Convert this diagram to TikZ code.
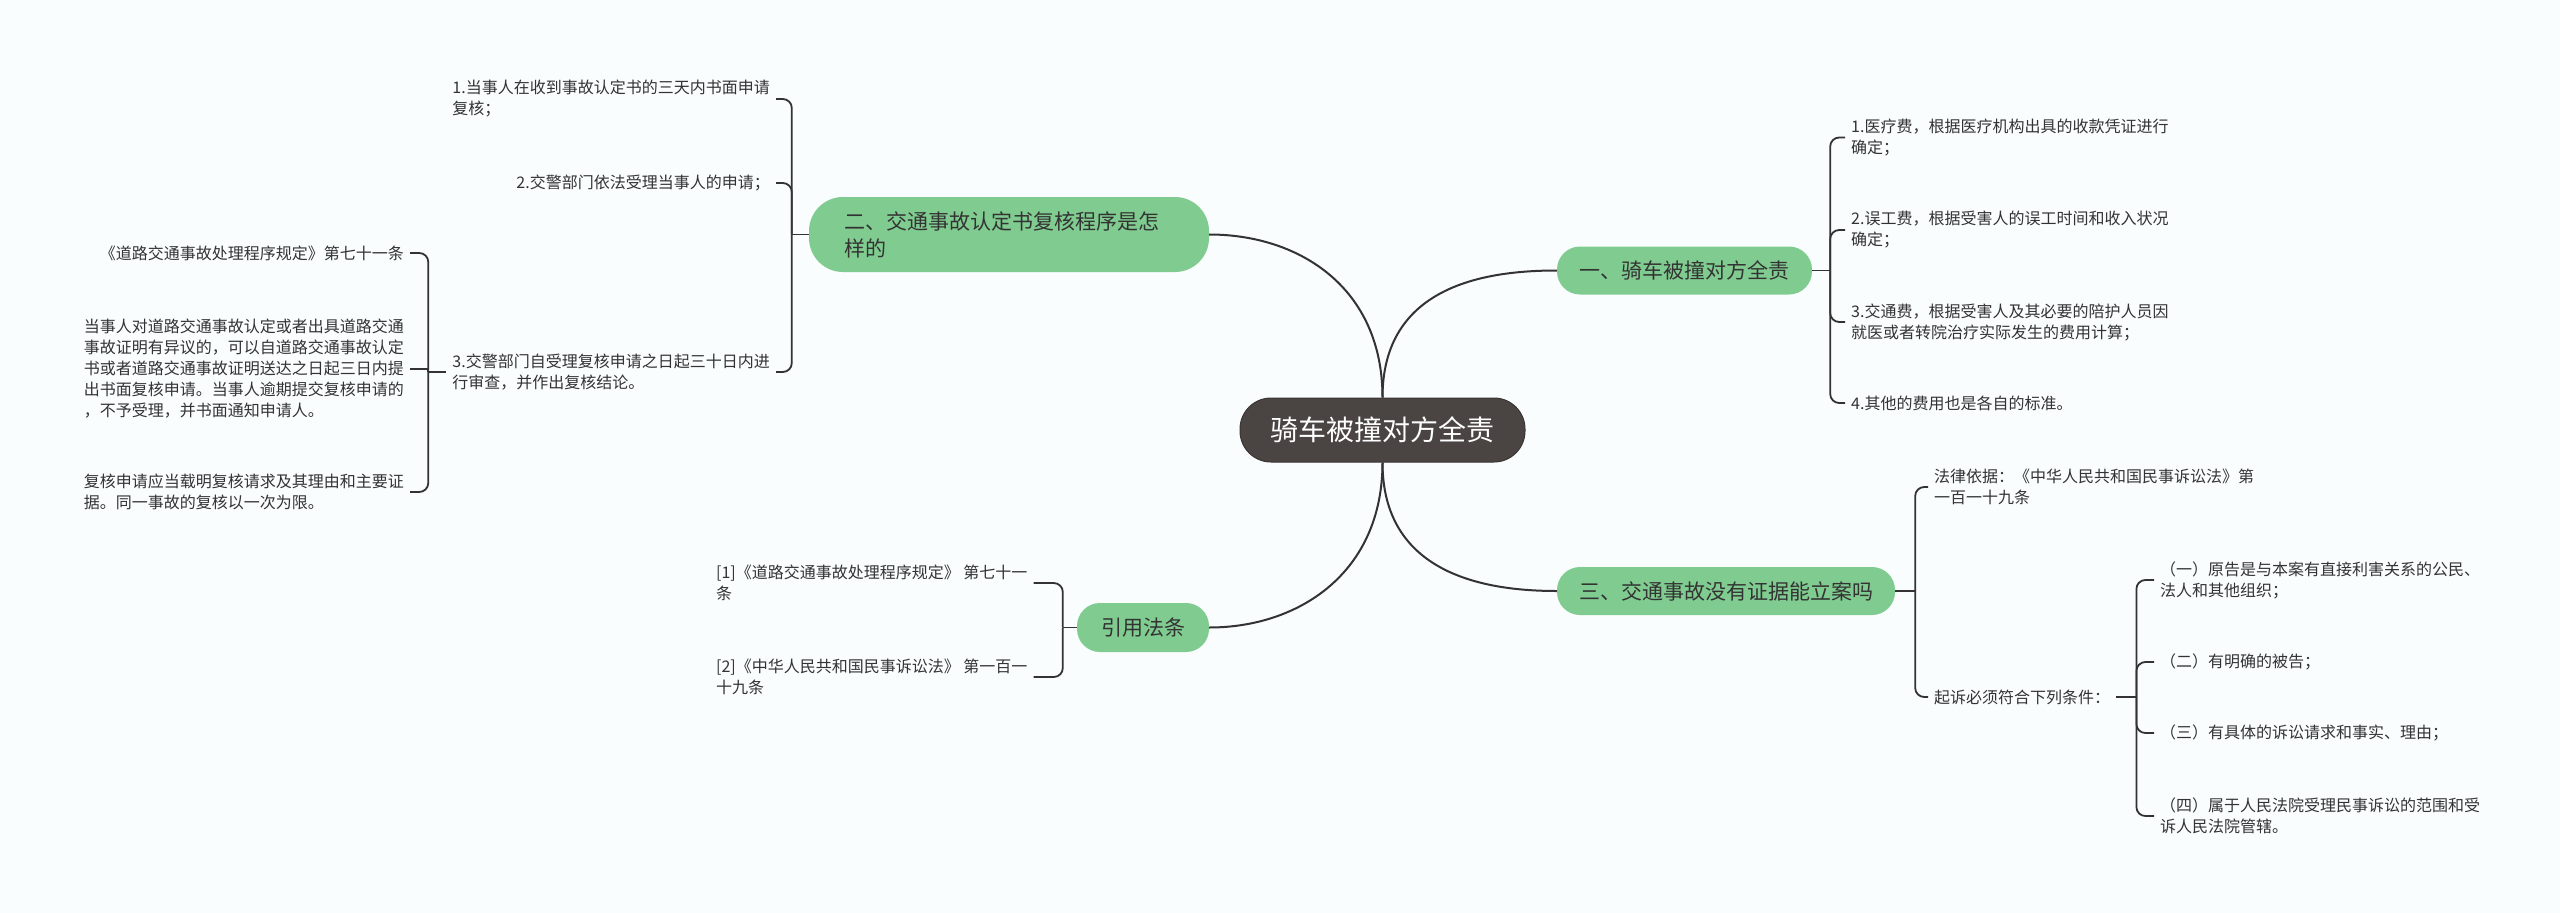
\documentclass[tikz,border=0pt]{standalone}
\usepackage{fontspec}
\newfontfamily\cjk{Noto Sans CJK SC}
\definecolor{bg}{HTML}{F9FDFD}
\definecolor{grn}{HTML}{80CC90}
\definecolor{rootfill}{HTML}{4A4443}
\definecolor{rootline}{HTML}{3A3433}
\definecolor{ln}{HTML}{333333}
\definecolor{txt}{HTML}{333333}
\tikzset{
  rootbox/.style={fill=rootfill, draw=rootline, line width=1pt, rounded corners=31pt,
    minimum width=285pt, minimum height=64pt, inner sep=0pt, text=white,
    font=\cjk\fontsize{28}{32}\selectfont},
  branchbox/.style={fill=grn, rounded corners=23pt, minimum height=48pt, inner sep=0pt,
    text=txt, font=\cjk\fontsize{21}{27}\selectfont},
  leaf/.style={inner xsep=6pt, inner ysep=0pt, align=left, text=txt,
    font=\cjk\fontsize{16}{21}\selectfont},
  link/.style={draw=ln, line width=2pt},
  brace/.style={draw=ln, line width=1.8pt, rounded corners=9pt},
}
\begin{document}
\begin{tikzpicture}[x=1pt,y=-1pt]
\useasboundingbox (0,0) rectangle (2560,913);
\fill[bg] (0,0) rectangle (2560,913);

% root
\node[rootbox] (c) at (1382.5,430) {骑车被撞对方全责};

% branches
\node[branchbox, minimum width=255pt] (b1) at (1684.5,270.5) {一、骑车被撞对方全责};
\node[branchbox, minimum width=400pt, minimum height=75pt, text width=330pt, inner xsep=35pt, align=left, rounded corners=34pt] (b2) at (1009,234.5) {二、交通事故认定书复核程序是怎\\样的};
\node[branchbox, minimum width=338pt] (b3) at (1726,591) {三、交通事故没有证据能立案吗};
\node[branchbox, minimum width=132pt, minimum height=49pt] (b4) at (1143,627.5) {引用法条};

\draw[link] (c.north) .. controls +(0,-110) and +(-75,0) .. (b1.west);
\draw[link] (c.north) .. controls +(0,-110) and +(90,0) .. (b2.east);
\draw[link] (c.south) .. controls +(0,110) and +(-75,0) .. (b3.west);
\draw[link] (c.south) .. controls +(0,110) and +(90,0) .. (b4.east);

% leaves of b1
\node[leaf, anchor=west] (l11) at (1845,137.5) {1.医疗费，根据医疗机构出具的收款凭证进行\\确定；};
\node[leaf, anchor=west] (l12) at (1845,230) {2.误工费，根据受害人的误工时间和收入状况\\确定；};
\node[leaf, anchor=west] (l13) at (1845,322) {3.交通费，根据受害人及其必要的陪护人员因\\就医或者转院治疗实际发生的费用计算；};
\node[leaf, anchor=west] (l14) at (1845,403) {4.其他的费用也是各自的标准。};
\coordinate (j1) at ([xshift=18pt]b1.east);
\draw[link, line width=1.8pt] (b1.east) -- (j1);
\foreach \n in {l11,l12,l13,l14} \draw[brace] (j1) |- (\n.west);

% leaves of b3
\node[leaf, anchor=west] (l31) at (1928,487) {法律依据：《中华人民共和国民事诉讼法》第\\一百一十九条};
\node[leaf, anchor=west] (l32) at (1928,697) {起诉必须符合下列条件：};
\coordinate (j3) at ([xshift=20pt]b3.east);
\draw[link, line width=1.8pt] (b3.east) -- (j3);
\foreach \n in {l31,l32} \draw[brace] (j3) |- (\n.west);

\node[leaf, anchor=west] (l321) at (2154,580) {（一）原告是与本案有直接利害关系的公民、\\法人和其他组织；};
\node[leaf, anchor=west] (l322) at (2154,662) {（二）有明确的被告；};
\node[leaf, anchor=west] (l323) at (2154,733) {（三）有具体的诉讼请求和事实、理由；};
\node[leaf, anchor=west] (l324) at (2154,816) {（四）属于人民法院受理民事诉讼的范围和受\\诉人民法院管辖。};
\coordinate (j32) at ([xshift=20pt]l32.east);
\draw[link, line width=1.8pt] (l32.east) -- (j32);
\foreach \n in {l321,l322,l323,l324} \draw[brace] (j32) |- (\n.west);

% leaves of b2
\node[leaf, anchor=east] (l21) at (776,99) {1.当事人在收到事故认定书的三天内书面申请\\复核；};
\node[leaf, anchor=east] (l22) at (776,183) {2.交警部门依法受理当事人的申请；};
\node[leaf, anchor=east] (l23) at (776,372) {3.交警部门自受理复核申请之日起三十日内进\\行审查，并作出复核结论。};
\coordinate (j2) at ([xshift=-17pt]b2.west);
\draw[link, line width=1.8pt] (b2.west) -- (j2);
\foreach \n in {l21,l22,l23} \draw[brace] (j2) |- (\n.east);

% sub leaves of l23
\node[leaf, anchor=east] (l231) at (410,253) {《道路交通事故处理程序规定》第七十一条};
\node[leaf, anchor=east] (l232) at (410,369) {当事人对道路交通事故认定或者出具道路交通\\事故证明有异议的，可以自道路交通事故认定\\书或者道路交通事故证明送达之日起三日内提\\出书面复核申请。当事人逾期提交复核申请的\\，不予受理，并书面通知申请人。};
\node[leaf, anchor=east] (l233) at (410,492) {复核申请应当载明复核请求及其理由和主要证\\据。同一事故的复核以一次为限。};
\coordinate (j23) at ([xshift=-18pt]l23.west);
\draw[link, line width=1.8pt] (l23.west) -- (j23);
\draw[brace] (j23) |- (l231.east);
\draw[link, line width=1.8pt] (j23) |- (l232.east);
\draw[brace] (j23) |- (l233.east);

% leaves of b4
\node[leaf, anchor=west] (l41) at (710,583) {[1]《道路交通事故处理程序规定》 第七十一\\条};
\node[leaf, anchor=west] (l42) at (710,677) {[2]《中华人民共和国民事诉讼法》 第一百一\\十九条};
\coordinate (j4) at ([xshift=-14pt]b4.west);
\draw[link, line width=1.8pt] (b4.west) -- (j4);
\foreach \n in {l41,l42} \draw[brace] (j4) |- (\n.east);
\end{tikzpicture}
\end{document}
